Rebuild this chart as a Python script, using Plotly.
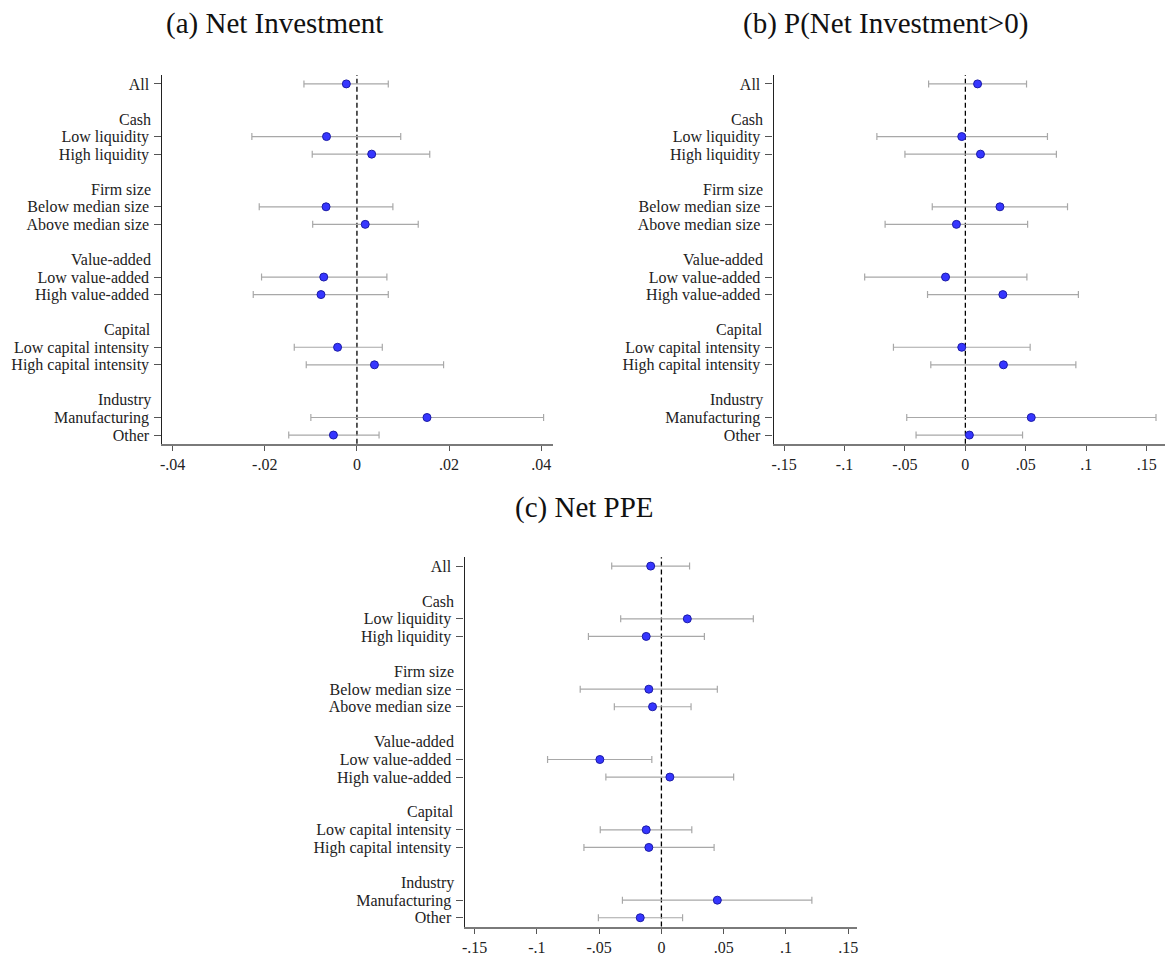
import plotly.graph_objects as go

# ---------------- data ----------------
groups = ["Cash", "Firm size", "Value-added", "Capital", "Industry"]
items = ["All",
         "Low liquidity", "High liquidity",
         "Below median size", "Above median size",
         "Low value-added", "High value-added",
         "Low capital intensity", "High capital intensity",
         "Manufacturing", "Other"]
# row index of each item (top = 0) and of each group header
item_rows = [0, 3, 4, 7, 8, 11, 12, 15, 16, 19, 20]
group_rows = [2, 6, 10, 14, 18]

# (a) Net Investment
a_est = [-0.0023, -0.0066, 0.0032, -0.0067, 0.0018, -0.0072, -0.0078, -0.0042, 0.0038, 0.0152, -0.0051]
a_lo  = [-0.0115, -0.0228, -0.0097, -0.0212, -0.0096, -0.0207, -0.0225, -0.0136, -0.0110, -0.0100, -0.0148]
a_hi  = [0.0068, 0.0095, 0.0158, 0.0078, 0.0133, 0.0065, 0.0068, 0.0055, 0.0188, 0.0405, 0.0048]

# (b) P(Net Investment>0)
b_est = [0.0101, -0.0030, 0.0125, 0.0286, -0.0074, -0.0164, 0.0310, -0.0030, 0.0315, 0.0545, 0.0033]
b_lo  = [-0.0304, -0.0732, -0.0500, -0.0274, -0.0664, -0.0833, -0.0313, -0.0595, -0.0286, -0.0485, -0.0408]
b_hi  = [0.0506, 0.0679, 0.0753, 0.0845, 0.0515, 0.0509, 0.0935, 0.0536, 0.0914, 0.1577, 0.0473]

# (c) Net PPE
c_est = [-0.0086, 0.0208, -0.0122, -0.0101, -0.0071, -0.0494, 0.0068, -0.0122, -0.0101, 0.0449, -0.0170]
c_lo  = [-0.0399, -0.0327, -0.0586, -0.0652, -0.0378, -0.0914, -0.0446, -0.0491, -0.0622, -0.0313, -0.0506]
c_hi  = [0.0226, 0.0738, 0.0345, 0.0449, 0.0238, -0.0077, 0.0580, 0.0244, 0.0423, 0.1208, 0.0170]

titles = ["(a) Net Investment", "(b) P(Net Investment>0)", "(c) Net PPE"]

a_ticks = [-0.04, -0.02, 0, 0.02, 0.04]
a_ticktext = ["-.04", "-.02", "0", ".02", ".04"]
bc_ticks = [-0.15, -0.1, -0.05, 0, 0.05, 0.1, 0.15]
bc_ticktext = ["-.15", "-.1", "-.05", "0", ".05", ".1", ".15"]

# ---------------- layout geometry ----------------
W, H = 1167, 956
FONT = "Liberation Serif"
TXT = "#222222"
FS = 16

def dom_x(x0, x1):
    return [x0 / W, x1 / W]

def dom_y(y0, y1):
    return [1 - y1 / H, 1 - y0 / H]

panels = [
    dict(est=a_est, lo=a_lo, hi=a_hi, xd=dom_x(160, 551.7), yd=dom_y(75.2, 444.3),
         xr=[-0.0422, 0.0425], tv=a_ticks, tt=a_ticktext),
    dict(est=b_est, lo=b_lo, hi=b_hi, xd=dom_x(773.3, 1165.7), yd=dom_y(75.2, 444.3),
         xr=[-0.1586, 0.1649], tv=bc_ticks, tt=bc_ticktext),
    dict(est=c_est, lo=c_lo, hi=c_hi, xd=dom_x(463.2, 856.9), yd=dom_y(557.9, 927.5),
         xr=[-0.158, 0.157], tv=bc_ticks, tt=bc_ticktext),
]

fig = go.Figure()
layout = dict(width=W, height=H, margin=dict(l=0, r=0, t=0, b=0),
              paper_bgcolor="white", plot_bgcolor="white", showlegend=False,
              font=dict(family=FONT, color=TXT, size=FS))
annotations = []
shapes = []

TICKLEN = 7
STANDOFF = 2

for i, p in enumerate(panels):
    sfx = "" if i == 0 else str(i + 1)
    xa, ya = "x" + sfx, "y" + sfx
    fig.add_trace(go.Scatter(
        x=p["est"], y=item_rows, xaxis=xa, yaxis=ya, mode="markers",
        marker=dict(size=8, color="#3636ff", line=dict(color="#1c1ca8", width=1)),
        error_x=dict(type="data", symmetric=False,
                     array=[h - e for h, e in zip(p["hi"], p["est"])],
                     arrayminus=[e - l for e, l in zip(p["est"], p["lo"])],
                     color="#a8a8a8", thickness=1.2, width=3.5),
        hoverinfo="x+y",
    ))
    layout["xaxis" + sfx] = dict(
        domain=p["xd"], range=p["xr"], anchor=ya,
        tickvals=p["tv"], ticktext=p["tt"], ticks="outside", ticklen=5,
        tickcolor="#555555", tickwidth=1,
        showline=True, linecolor="#7a7a7a", linewidth=2,
        showgrid=False, zeroline=False,
        tickfont=dict(family=FONT, size=FS, color=TXT),
    )
    layout["yaxis" + sfx] = dict(
        domain=p["yd"], range=[20.5, -0.5], anchor=xa,
        tickvals=item_rows, ticktext=items, ticks="outside", ticklen=TICKLEN,
        tickcolor="#555555", tickwidth=1, ticklabelstandoff=STANDOFF,
        showline=True, linecolor="#222222", linewidth=1.3,
        showgrid=False, zeroline=False,
        tickfont=dict(family=FONT, size=FS, color=TXT),
    )
    # group headers (no tick marks)
    for g, r in zip(groups, group_rows):
        annotations.append(dict(
            text=g, xref="paper", yref=ya, x=p["xd"][0], y=r,
            xanchor="right", yanchor="middle", showarrow=False,
            xshift=-(TICKLEN + STANDOFF), font=dict(family=FONT, size=FS, color=TXT),
        ))
    # vertical dashed zero line
    shapes.append(dict(type="line", xref=xa, yref=ya + " domain", x0=0, x1=0, y0=0, y1=1,
                       line=dict(color="black", width=1.3, dash="5px,3px"), layer="below"))
    # panel title
    ty = 24 if i < 2 else 508
    tx = [272, 886, 583][i]
    annotations.append(dict(
        text=titles[i], xref="paper", yref="paper", x=tx / W, y=1 - ty / H,
        xanchor="center", yanchor="middle", showarrow=False,
        font=dict(family=FONT, size=29, color="#111111"),
    ))

layout["annotations"] = annotations
layout["shapes"] = shapes
fig.update_layout(**layout)
fig.write_html("out.html", config={"displayModeBar": False},
               post_script="document.body.style.margin='0';document.body.style.overflow='hidden';")
